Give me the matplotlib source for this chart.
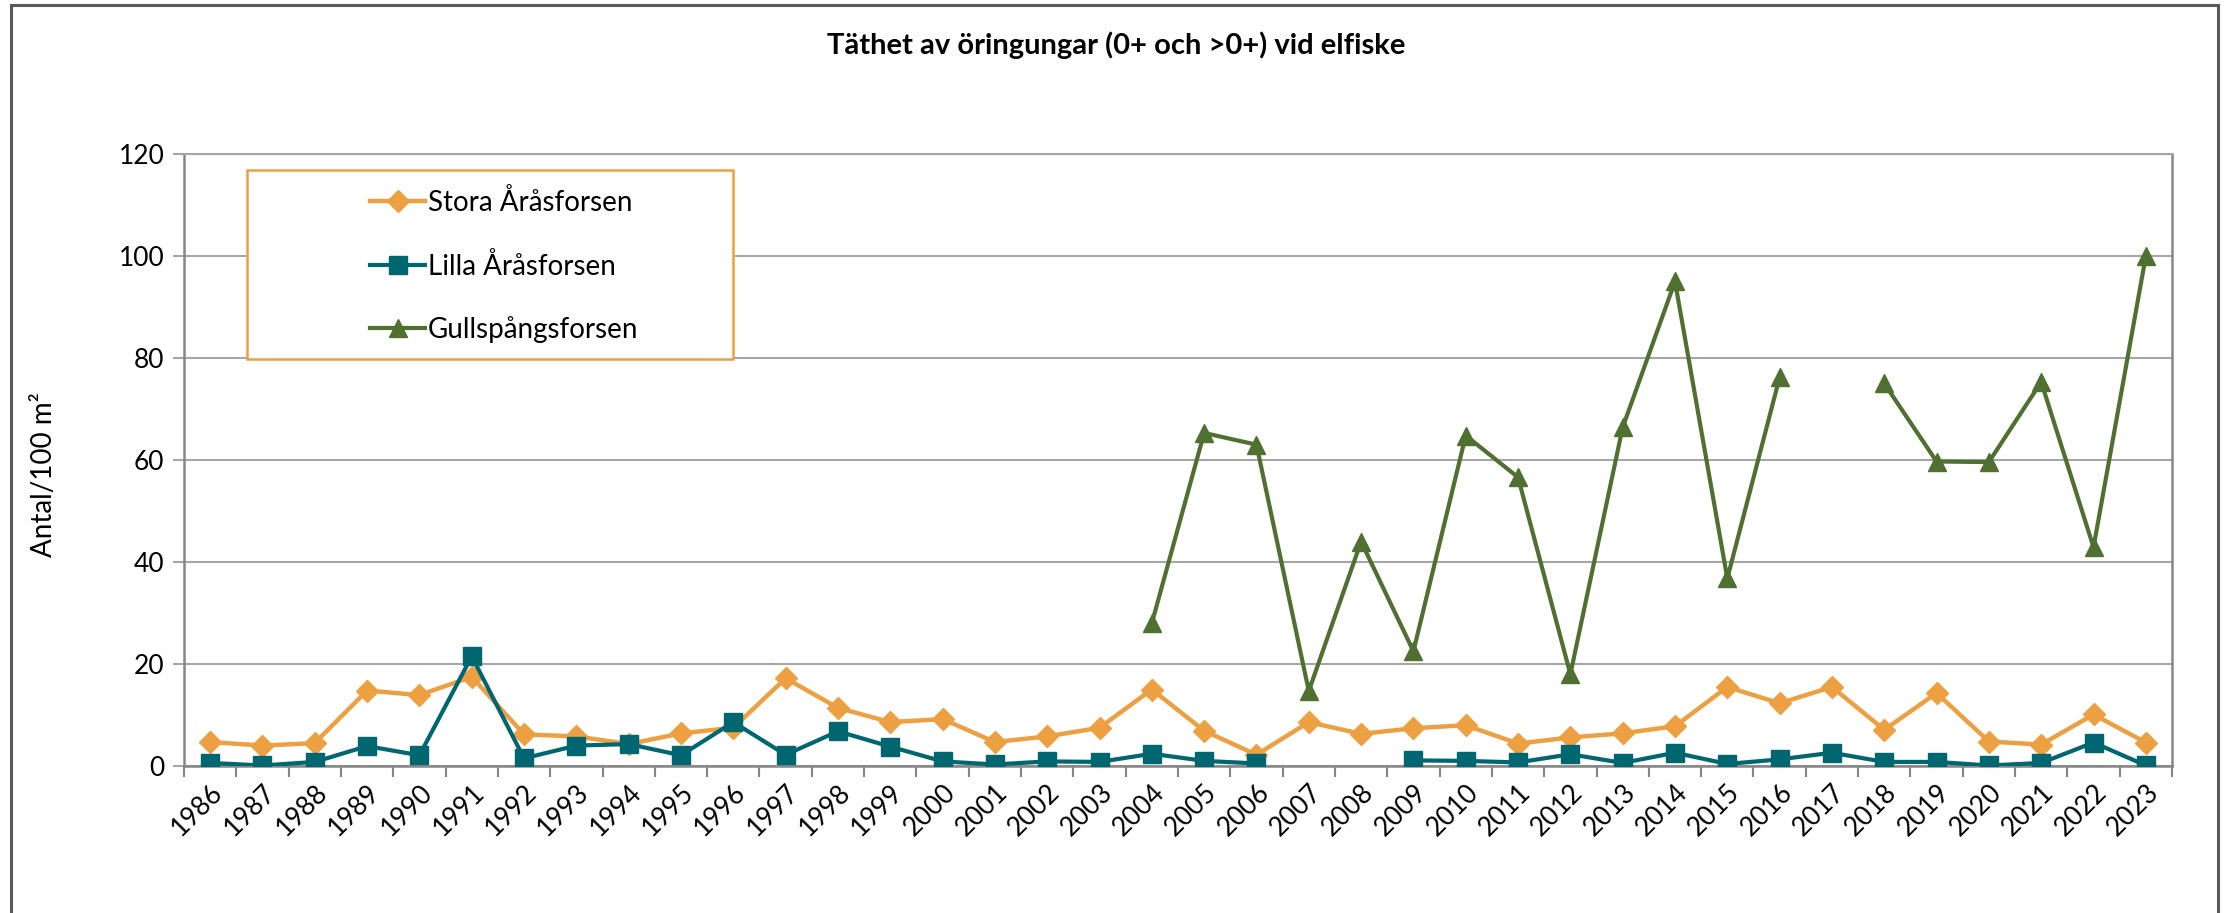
import numpy as np
import matplotlib
matplotlib.use("Agg")
import matplotlib.pyplot as plt
from matplotlib.patches import Rectangle
from matplotlib.ticker import FixedLocator

plt.rcParams['font.family'] = ['Lato', 'DejaVu Sans']

years = [str(y) for y in range(1986, 2024)]
nan = np.nan
stora = [4.7, 4.0, 4.5, 14.8, 13.9, 17.5, 6.2, 5.8, 4.3, 6.4, 7.5, 17.2, 11.4, 8.6, 9.2,
         4.7, 5.8, 7.5, 15.0, 6.9, 2.2, 8.6, 6.3, 7.4, 8.0, 4.4, 5.6, 6.4, 7.8, 15.5,
         12.3, 15.5, 7.1, 14.3, 4.8, 4.2, 10.1, 4.6]
lilla = [0.6, 0.1, 0.8, 3.9, 2.1, 21.5, 1.5, 4.0, 4.3, 2.1, 8.6, 2.2, 6.8, 3.8, 0.9,
         0.3, 0.9, 0.8, 2.4, 1.0, 0.5, nan, nan, 1.1, 1.0, 0.7, 2.3, 0.6, 2.6, 0.4,
         1.3, 2.6, 0.8, 0.8, 0.1, 0.6, 4.6, 0.1]
gulls = [nan] * 18 + [28.0, 65.3, 63.0, 14.7, 44.0, 22.5, 64.8, 56.6, 18.0, 66.4, 95.0,
                      36.8, 76.2, nan, 75.0, 59.7, 59.6, 75.3, 42.9, 100.0]
series_names = ["Stora Åråsforsen", "Lilla Åråsforsen", "Gullspångsforsen"]
yticks = [0, 20, 40, 60, 80, 100, 120]

c_orange = '#EDA042'
c_teal = '#006670'
c_green = '#4F7031'

fig = plt.figure(figsize=(22.24, 9.13), dpi=100)
ax = fig.add_axes([184/2224, 1-766/913, (2172-184)/2224, (766-154)/913])

x = np.arange(len(years))
ax.plot(x, stora, color=c_orange, lw=3.2, marker='D', ms=11.5, mec=c_orange, mfc=c_orange,
        label=series_names[0], zorder=3)
ax.plot(x, lilla, color=c_teal, lw=3.0, marker='s', ms=12.5, mec=c_teal, mfc=c_teal,
        label=series_names[1], zorder=4)
ax.plot(x, gulls, color=c_green, lw=3.0, marker='^', ms=12.5, mec=c_green, mfc=c_green,
        label=series_names[2], zorder=3)

ax.set_xlim(-0.5, len(years) - 0.5)
ax.set_ylim(0, 120)
ax.set_yticks(yticks)
ax.set_yticklabels([str(t) for t in yticks], fontsize=19)
ax.yaxis.grid(True, color='#A6A6A6', lw=1.5)
ax.set_axisbelow(True)

ax.set_xticks(x)
ax.set_xticklabels(years, rotation=45, ha='right', va='top', rotation_mode='anchor', fontsize=19)
ax.tick_params(axis='x', which='major', length=0, pad=10)
ax.xaxis.set_minor_locator(FixedLocator(np.arange(-0.5, len(years), 1.0)))
ax.tick_params(axis='x', which='minor', length=8, color='#868686', width=1.5)
ax.tick_params(axis='y', length=8, color='#A6A6A6', width=1.5, pad=6)

for s in ['left', 'bottom', 'right']:
    ax.spines[s].set_color('#868686')
    ax.spines[s].set_linewidth(1.8)
ax.spines['top'].set_color('#A6A6A6')
ax.spines['top'].set_linewidth(1.5)

ax.set_ylabel("Antal/100 m²", fontsize=20)
ax.yaxis.set_label_coords((57 - 184) / 1988, (766 - 475) / 612)

fig.text(0.5 + 0.002, 1 - 45/913, "Täthet av öringungar (0+ och >0+) vid elfiske",
         ha='center', va='center', fontsize=21, fontweight='bold')

ax.add_patch(Rectangle(((247-184)/(2172-184), (766-359)/612), (733-247)/(2172-184), (359-170)/612,
                       transform=ax.transAxes, fill=True, facecolor='white', edgecolor=c_orange,
                       lw=1.8, zorder=5))
leg = ax.legend(loc='upper left',
                bbox_to_anchor=((368-184 - 12)/(2172-184), (766-175)/612),
                bbox_transform=ax.transAxes, fontsize=20, frameon=False,
                labelspacing=1.32, borderpad=0.5, handlelength=2.0, handletextpad=0.1,
                borderaxespad=0)
leg.set_zorder(6)

fig.patches.append(Rectangle((11/2224, -0.05), (2218-11)/2224, 1.05 - 5/913,
                             transform=fig.transFigure, fill=False, edgecolor='#595959',
                             lw=2.2, figure=fig))

fig.savefig("out.png", dpi=100, facecolor='white')
